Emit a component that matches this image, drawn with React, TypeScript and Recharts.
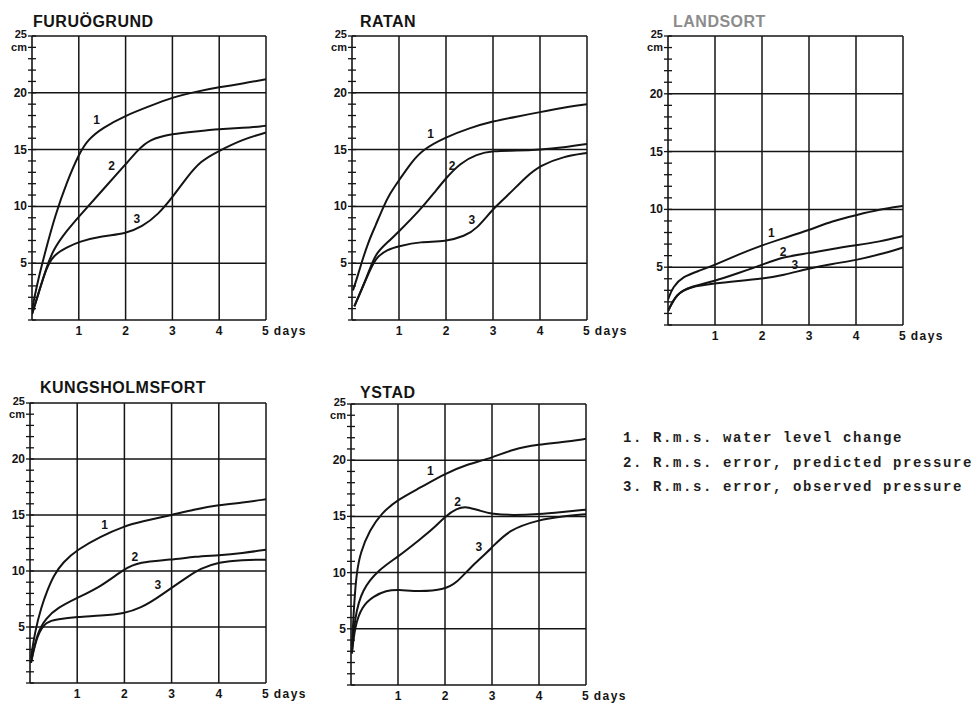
import { Line, LineChart, ReferenceDot, ReferenceLine, XAxis, YAxis } from "recharts";

const INK = "#141414";
const SANS = "'Liberation Sans', Arial, sans-serif";
const MONO = "'Liberation Mono', 'DejaVu Sans Mono', monospace";

const DAY_TICKS = [1, 2, 3, 4, 5];
const DAY_GRID = [1, 2, 3, 4, 5];
const CM_TICKS = [0, 1, 2, 3, 4, 5, 6, 7, 8, 9, 10, 11, 12, 13, 14, 15, 16, 17, 18, 19, 20, 21, 22, 23, 24, 25];
const CM_GRID = [5, 10, 15, 20, 25];

const LEGEND = [
  "1. R.m.s. water level change",
  "2. R.m.s. error, predicted pressure",
  "3. R.m.s. error, observed pressure",
];

type Pt = [number, number];
type Tag = { n: string; d: number; v: number };

// FURUÖGRUND
const FURU_1: Pt[] = [[0, 0.9], [0.1, 3.0], [0.25, 5.5], [0.5, 9.3], [0.75, 12.2], [1, 14.6], [1.2, 15.9], [1.5, 16.9], [2, 18.0], [2.5, 18.8], [3, 19.6], [3.5, 20.1], [4, 20.5], [4.5, 20.8], [5, 21.2]];
const FURU_2: Pt[] = [[0, 0.5], [0.15, 2.5], [0.3, 4.5], [0.45, 6.2], [0.75, 7.9], [1, 9.1], [1.5, 11.4], [2, 13.7], [2.25, 14.9], [2.5, 15.9], [3, 16.4], [3.5, 16.6], [4, 16.8], [4.5, 16.9], [5, 17.1]];
const FURU_3: Pt[] = [[0, 0.5], [0.15, 2.5], [0.3, 4.5], [0.45, 5.7], [0.75, 6.4], [1, 6.9], [1.5, 7.4], [2, 7.6], [2.35, 8.2], [2.7, 9.3], [3, 10.8], [3.3, 12.5], [3.6, 14.0], [4, 14.9], [4.5, 15.9], [5, 16.5]];
const FURU_TAGS: Tag[] = [{ n: "1", d: 1.38, v: 17.6 }, { n: "2", d: 1.7, v: 13.6 }, { n: "3", d: 2.24, v: 8.9 }];

// RATAN
const RATAN_1: Pt[] = [[0.02, 2.6], [0.1, 3.6], [0.2, 5.0], [0.35, 6.9], [0.5, 8.3], [0.65, 9.8], [0.8, 11.1], [1, 12.3], [1.25, 13.8], [1.5, 15.0], [2, 16.1], [2.5, 16.9], [3, 17.5], [3.5, 17.9], [4, 18.3], [4.5, 18.7], [5, 19.0]];
const RATAN_2: Pt[] = [[0.05, 1.2], [0.32, 3.8], [0.5, 5.9], [0.75, 6.8], [1, 7.8], [1.45, 9.7], [1.75, 11.2], [2, 12.5], [2.3, 13.8], [2.65, 14.6], [3, 14.9], [3.5, 14.9], [4, 15.0], [4.5, 15.2], [5, 15.5]];
const RATAN_3: Pt[] = [[0.05, 1.2], [0.32, 3.8], [0.5, 5.5], [0.75, 6.2], [1, 6.5], [1.45, 6.9], [2, 6.9], [2.4, 7.4], [2.65, 8.0], [3, 9.8], [3.3, 10.9], [3.7, 12.6], [4, 13.6], [4.5, 14.4], [5, 14.7]];
const RATAN_TAGS: Tag[] = [{ n: "1", d: 1.67, v: 16.4 }, { n: "2", d: 2.13, v: 13.6 }, { n: "3", d: 2.55, v: 8.8 }];

// LANDSORT
const LAND_1: Pt[] = [[0, 2.2], [0.1, 3.3], [0.32, 4.2], [0.67, 4.7], [1, 5.2], [1.5, 6.1], [2, 6.9], [2.45, 7.5], [3, 8.2], [3.5, 9.0], [4, 9.5], [4.5, 10.0], [5, 10.3]];
const LAND_2: Pt[] = [[0, 1.2], [0.18, 2.7], [0.46, 3.3], [1, 3.8], [1.5, 4.5], [2, 5.2], [2.45, 5.9], [3, 6.2], [3.5, 6.6], [4, 6.9], [4.5, 7.2], [5, 7.7]];
const LAND_3: Pt[] = [[0, 1.2], [0.18, 2.7], [0.46, 3.3], [1, 3.6], [1.5, 3.8], [2, 4.0], [2.45, 4.3], [3, 4.9], [3.5, 5.3], [4, 5.6], [4.5, 6.1], [5, 6.7]];
const LAND_TAGS: Tag[] = [{ n: "1", d: 2.2, v: 8.0 }, { n: "2", d: 2.45, v: 6.3 }, { n: "3", d: 2.7, v: 5.2 }];

// KUNGSHOLMSFORT
const KUNG_1: Pt[] = [[0.02, 2.2], [0.1, 4.5], [0.24, 6.8], [0.37, 8.3], [0.5, 9.6], [0.7, 10.8], [1, 11.9], [1.5, 13.1], [2, 14.0], [2.35, 14.4], [3, 15.0], [3.5, 15.5], [4, 15.9], [4.5, 16.1], [5, 16.4]];
const KUNG_2: Pt[] = [[0.02, 1.8], [0.15, 4.5], [0.34, 5.8], [0.58, 6.7], [1, 7.6], [1.5, 8.6], [2, 10.2], [2.3, 10.8], [3, 11.0], [3.5, 11.3], [4, 11.4], [4.5, 11.6], [5, 11.9]];
const KUNG_3: Pt[] = [[0.02, 1.8], [0.15, 4.3], [0.34, 5.5], [0.58, 5.7], [1, 5.9], [1.5, 6.0], [2, 6.2], [2.35, 6.7], [2.7, 7.6], [3, 8.5], [3.35, 9.5], [3.6, 10.2], [4, 10.8], [4.5, 11.0], [5, 11.0]];
const KUNG_TAGS: Tag[] = [{ n: "1", d: 1.58, v: 14.1 }, { n: "2", d: 2.22, v: 11.3 }, { n: "3", d: 2.71, v: 8.75 }];

// YSTAD
const YST_1: Pt[] = [[0.02, 3.5], [0.07, 7.5], [0.12, 10.0], [0.2, 11.8], [0.4, 13.8], [0.65, 15.3], [1, 16.5], [1.45, 17.5], [2, 18.8], [2.45, 19.6], [3, 20.2], [3.45, 21.0], [4, 21.4], [4.5, 21.6], [5, 21.9]];
const YST_2: Pt[] = [[0.02, 3.0], [0.08, 6.0], [0.23, 8.5], [0.6, 10.3], [1, 11.4], [1.45, 12.9], [1.75, 13.9], [2, 15.0], [2.25, 15.7], [2.45, 15.9], [2.75, 15.5], [3, 15.2], [3.45, 15.1], [4, 15.2], [4.5, 15.4], [5, 15.6]];
const YST_3: Pt[] = [[0.02, 2.8], [0.08, 5.2], [0.23, 7.0], [0.48, 7.9], [0.75, 8.4], [1, 8.5], [1.45, 8.3], [2, 8.5], [2.25, 9.1], [2.5, 10.3], [3, 12.2], [3.35, 13.8], [4, 14.7], [4.5, 15.0], [5, 15.2]];
const YST_TAGS: Tag[] = [{ n: "1", d: 1.69, v: 19.1 }, { n: "2", d: 2.27, v: 16.3 }, { n: "3", d: 2.72, v: 12.3 }];

const AX_W = 40;
const TOP_PAD = 20;
const RIGHT_PAD = 55;
const BOTTOM_PAD = 25;

const TICK_TEXT = { fontSize: 12, fontWeight: 700, fontFamily: SANS, fill: INK } as const;

function CmTick({ x, y, payload }: any) {
  const v = payload.value;
  return (
    <g>
      <line x1={x - 4} x2={x + 4} y1={y} y2={y} stroke={INK} strokeWidth={1.3} />
      {v === 25 ? (
        <>
          <text x={x - 5} y={y + 2} textAnchor="end" {...TICK_TEXT} fontSize={11}>25</text>
          <text x={x - 5} y={y + 15} textAnchor="end" {...TICK_TEXT} fontSize={11}>cm</text>
        </>
      ) : v > 0 && v % 5 === 0 ? (
        <text x={x - 5} y={y + 4} textAnchor="end" {...TICK_TEXT}>{v}</text>
      ) : null}
    </g>
  );
}

function DayTick({ x, y, payload }: any) {
  const v = payload.value;
  if (v === 5) {
    return (
      <text x={x - 4} y={y + 15} {...TICK_TEXT}>
        5<tspan dx={5} letterSpacing={1.5}>days</tspan>
      </text>
    );
  }
  return (
    <text x={x} y={y + 15} textAnchor="middle" {...TICK_TEXT}>{v}</text>
  );
}

type Box = { left: number; top: number; w: number; h: number };

function Panel({ box, curves, tags }: { box: Box; curves: Pt[][]; tags: Tag[] }) {
  return (
    <div style={{ position: "absolute", left: box.left - AX_W, top: box.top - TOP_PAD }}>
      <LineChart
        width={AX_W + box.w + RIGHT_PAD}
        height={TOP_PAD + box.h + BOTTOM_PAD}
        margin={{ top: TOP_PAD, right: RIGHT_PAD, bottom: 0, left: 0 }}
      >
        <XAxis
          type="number"
          dataKey="d"
          domain={[0, 5]}
          ticks={DAY_TICKS}
          interval={0}
          allowDataOverflow
          height={BOTTOM_PAD}
          tickSize={0}
          tickMargin={0}
          tickLine={false}
          axisLine={{ stroke: INK, strokeWidth: 1.6 }}
          tick={<DayTick />}
        />
        <YAxis
          type="number"
          dataKey="v"
          domain={[0, 25]}
          ticks={CM_TICKS}
          interval={0}
          allowDataOverflow
          width={AX_W}
          tickSize={0}
          tickMargin={0}
          tickLine={false}
          axisLine={{ stroke: INK, strokeWidth: 1.6 }}
          tick={<CmTick />}
        />
        {CM_GRID.map((v) => (
          <ReferenceLine key={"h" + v} y={v} stroke={INK} strokeWidth={1.5} />
        ))}
        {DAY_GRID.map((d) => (
          <ReferenceLine key={"v" + d} x={d} stroke={INK} strokeWidth={1.5} />
        ))}
        {curves.map((c, i) => (
          <Line
            key={i}
            data={c.map(([d, v]) => ({ d, v }))}
            dataKey="v"
            type="basis"
            stroke={INK}
            strokeWidth={2}
            dot={false}
            activeDot={false}
            isAnimationActive={false}
          />
        ))}
        {tags.map((t) => (
          <ReferenceDot
            key={t.n}
            x={t.d}
            y={t.v}
            r={0}
            fill="none"
            stroke="none"
            label={{ value: t.n, position: "center", fontSize: 12, fontWeight: 700, fontFamily: SANS, fill: INK }}
          />
        ))}
      </LineChart>
    </div>
  );
}

const TITLE_STYLE = { fontFamily: SANS, fontSize: 16, fontWeight: 700, letterSpacing: 0.5 } as const;

export default function App() {
  return (
    <div style={{ position: "absolute", left: 0, top: 0, width: 972, height: 708, background: "#fff", overflow: "hidden" }}>
      <svg width={972} height={708} style={{ position: "absolute", left: 0, top: 0 }}>
        <text x={33} y={27} fill={INK} {...TITLE_STYLE}>FURUÖGRUND</text>
        <text x={360} y={27} fill={INK} {...TITLE_STYLE}>RATAN</text>
        <text x={673} y={27} fill="#8c8c8c" {...TITLE_STYLE}>LANDSORT</text>
        <text x={40} y={393} fill={INK} {...TITLE_STYLE}>KUNGSHOLMSFORT</text>
        <text x={360} y={398} fill={INK} {...TITLE_STYLE}>YSTAD</text>
        {LEGEND.map((s, i) => (
          <text key={s} x={623} y={442 + i * 24.5} fill="#1e1e1e" fontFamily={MONO} fontSize={14} fontWeight={700} letterSpacing={1.6}>
            {s}
          </text>
        ))}
      </svg>
      <Panel box={{ left: 32, top: 36, w: 234, h: 284 }} curves={[FURU_1, FURU_2, FURU_3]} tags={FURU_TAGS} />
      <Panel box={{ left: 352, top: 36, w: 235, h: 284 }} curves={[RATAN_1, RATAN_2, RATAN_3]} tags={RATAN_TAGS} />
      <Panel box={{ left: 668, top: 36, w: 235, h: 289 }} curves={[LAND_1, LAND_2, LAND_3]} tags={LAND_TAGS} />
      <Panel box={{ left: 30, top: 403, w: 236, h: 280 }} curves={[KUNG_1, KUNG_2, KUNG_3]} tags={KUNG_TAGS} />
      <Panel box={{ left: 351, top: 404, w: 235, h: 281 }} curves={[YST_1, YST_2, YST_3]} tags={YST_TAGS} />
    </div>
  );
}
